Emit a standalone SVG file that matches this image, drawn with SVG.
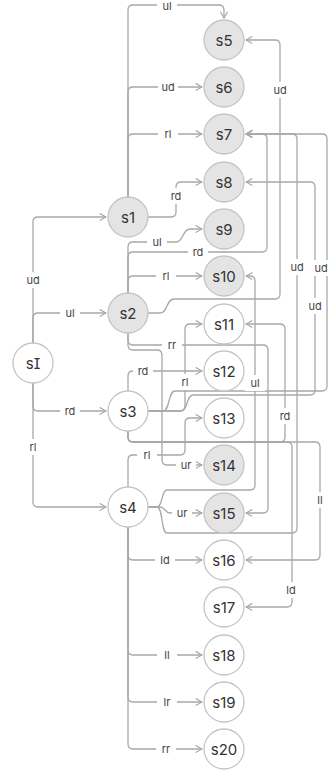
<svg xmlns="http://www.w3.org/2000/svg" width="328" height="772" viewBox="0 0 328 772">
<style>
.n circle{stroke:#c4c4c4;stroke-width:1.3;fill:#fff}
.g circle{fill:#e4e4e4}
.n text{font-family:Inter,"Noto Sans",sans-serif;font-size:15px;fill:#333;text-anchor:middle;dominant-baseline:central}
.si{font-feature-settings:"cv08" 1}
.e path{fill:none;stroke:#a8a8a8;stroke-width:1.3;marker-end:url(#a)}
.l text{font-family:Inter,"Noto Sans",sans-serif;font-size:11px;fill:#444;text-anchor:middle;dominant-baseline:central}
.l rect{fill:#fff;width:20px;height:16px}
</style>
<defs>
<marker id="a" viewBox="0 0 10 10" refX="9" refY="5" markerWidth="9" markerHeight="9" markerUnits="userSpaceOnUse" orient="auto">
<path d="M2,1 L9,5 L2,9" fill="none" stroke="#a8a8a8" stroke-width="1.3"/>
</marker>
</defs>
<g id="edges" class="e">
<path d="M33,343 V222 Q33,217 38,217 H106"/>
<path d="M33,343 V318 Q33,313 38,313 H106"/>
<path d="M33,383 V406 Q33,411 38,411 H106"/>
<path d="M33,383 V502 Q33,507 38,507 H106"/>
<path d="M128,197 V10 Q128,5 133,5 H219 Q224,5 224,10 V18"/>
<path d="M128,197 V92 Q128,87 133,87 H202"/>
<path d="M128,197 V139 Q128,134 133,134 H202"/>
<path d="M148,217 H171 Q176,217 176,212 V187 Q176,182 181,182 H202"/>
<path d="M128,293 V247 Q128,242 133,242 H176 C184,242 182,229 190,229 H202"/>
<path d="M128,293 V257 Q128,252 133,252 H262 Q267,252 267,247 V139 Q267,134 262,134 H246"/>
<path d="M128,293 V281 Q128,276 133,276 H202"/>
<path d="M148,313 H160 C168,313 166,299 174,299 H275 Q280,299 280,294 V45 Q280,40 275,40 H246"/>
<path d="M128,333 V340 Q128,345 133,345 H263 Q268,345 268,350 V508 Q268,513 263,513 H246"/>
<path d="M128,333 V345 Q128,350 133,350 H157 Q162,350 162,355 V460 Q162,465 167,465 H202"/>
<path d="M128,391 V376 Q128,371 133,371 H202"/>
<path d="M148,411 H180 Q185,411 185,406 V329 Q185,324 190,324 H202"/>
<path d="M148,411 H163 C170,411 168,391 175,391 H322 Q327,391 327,386 V139 Q327,134 322,134 H246"/>
<path d="M148,411 H181 C188,411 186,395 193,395 H310 Q315,395 315,390 V187 Q315,182 310,182 H246"/>
<path d="M128,431 V437 Q128,442 133,442 H280 Q285,442 285,437 V329 Q285,324 280,324 H246"/>
<path d="M128,431 V437 Q128,442 133,442 H287 Q292,442 292,447 V602 Q292,607 287,607 H246"/>
<path d="M128,431 V437 Q128,442 133,442 H315 Q320,442 320,447 V555 Q320,560 315,560 H246"/>
<path d="M148,507 H157 C163,507 161,490 167,490 H250 Q255,490 255,485 V281 Q255,276 250,276 H246"/>
<path d="M148,507 H160 C165,507 165,513 170,513 H202"/>
<path d="M148,507 H157 C163,507 161,533 167,533 H292 Q297,533 297,528 V139 Q297,134 292,134 H246"/>
<path d="M128,487 V460 Q128,455 133,455 H180 Q185,455 185,450 V423 Q185,418 190,418 H202"/>
<path d="M128,527 V555 Q128,560 133,560 H202"/>
<path d="M128,527 V650 Q128,655 133,655 H202"/>
<path d="M128,527 V697 Q128,702 133,702 H202"/>
<path d="M128,527 V744 Q128,749 133,749 H202"/>
</g>
<g id="labels" class="l">
<rect x="23" y="272"/><text x="33" y="280">ud</text>
<rect x="60" y="305"/><text x="70" y="313">ul</text>
<rect x="60" y="403"/><text x="70" y="411">rd</text>
<rect x="23" y="439"/><text x="33" y="447">rl</text>
<rect x="157" y="0"/><text x="167" y="6">ul</text>
<rect x="158" y="79"/><text x="168" y="87">ud</text>
<rect x="158" y="126"/><text x="168" y="134">rl</text>
<rect x="166" y="188"/><text x="176" y="196">rd</text>
<rect x="147" y="234"/><text x="157" y="242">ul</text>
<rect x="188" y="245"/><text x="198" y="252">rd</text>
<rect x="156" y="268"/><text x="166" y="276">rl</text>
<rect x="270" y="82"/><text x="280" y="90">ud</text>
<rect x="162" y="337"/><text x="172" y="345">rr</text>
<rect x="176" y="457"/><text x="186" y="465">ur</text>
<rect x="133" y="363"/><text x="143" y="371">rd</text>
<rect x="175" y="374"/><text x="185" y="382">rl</text>
<rect x="305" y="298"/><text x="315" y="306">ud</text>
<rect x="311" y="260"/><text x="321" y="268">ud</text>
<rect x="275" y="408"/><text x="285" y="416">rd</text>
<rect x="281" y="582"/><text x="291" y="590">ld</text>
<rect x="310" y="492"/><text x="320" y="500">ll</text>
<rect x="245" y="375"/><text x="255" y="383">ul</text>
<rect x="172" y="505"/><text x="182" y="513">ur</text>
<rect x="287" y="259"/><text x="297" y="267">ud</text>
<rect x="137" y="447"/><text x="147" y="455">rl</text>
<rect x="155" y="552"/><text x="165" y="560">ld</text>
<rect x="157" y="647"/><text x="167" y="655">ll</text>
<rect x="157" y="694"/><text x="167" y="702">lr</text>
<rect x="156" y="741"/><text x="166" y="749">rr</text>
</g>
<g id="sI" class="n"><circle cx="33" cy="363" r="20"/><text class="si" x="33" y="363">sI</text></g>
<g id="s1" class="n g"><circle cx="128" cy="217" r="20"/><text x="128" y="217">s1</text></g>
<g id="s2" class="n g"><circle cx="128" cy="313" r="20"/><text x="128" y="313">s2</text></g>
<g id="s3" class="n"><circle cx="128" cy="411" r="20"/><text x="128" y="411">s3</text></g>
<g id="s4" class="n"><circle cx="128" cy="507" r="20"/><text x="128" y="507">s4</text></g>
<g id="s5" class="n g"><circle cx="224" cy="40" r="20"/><text x="224" y="40">s5</text></g>
<g id="s6" class="n g"><circle cx="224" cy="87" r="20"/><text x="224" y="87">s6</text></g>
<g id="s7" class="n g"><circle cx="224" cy="134" r="20"/><text x="224" y="134">s7</text></g>
<g id="s8" class="n g"><circle cx="224" cy="182" r="20"/><text x="224" y="182">s8</text></g>
<g id="s9" class="n g"><circle cx="224" cy="229" r="20"/><text x="224" y="229">s9</text></g>
<g id="s10" class="n g"><circle cx="224" cy="276" r="20"/><text x="224" y="276">s10</text></g>
<g id="s11" class="n"><circle cx="224" cy="324" r="20"/><text x="224" y="324">s11</text></g>
<g id="s12" class="n"><circle cx="224" cy="371" r="20"/><text x="224" y="371">s12</text></g>
<g id="s13" class="n"><circle cx="224" cy="418" r="20"/><text x="224" y="418">s13</text></g>
<g id="s14" class="n g"><circle cx="224" cy="465" r="20"/><text x="224" y="465">s14</text></g>
<g id="s15" class="n g"><circle cx="224" cy="513" r="20"/><text x="224" y="513">s15</text></g>
<g id="s16" class="n"><circle cx="224" cy="560" r="20"/><text x="224" y="560">s16</text></g>
<g id="s17" class="n"><circle cx="224" cy="607" r="20"/><text x="224" y="607">s17</text></g>
<g id="s18" class="n"><circle cx="224" cy="655" r="20"/><text x="224" y="655">s18</text></g>
<g id="s19" class="n"><circle cx="224" cy="702" r="20"/><text x="224" y="702">s19</text></g>
<g id="s20" class="n"><circle cx="224" cy="749" r="20"/><text x="224" y="749">s20</text></g>
</svg>
